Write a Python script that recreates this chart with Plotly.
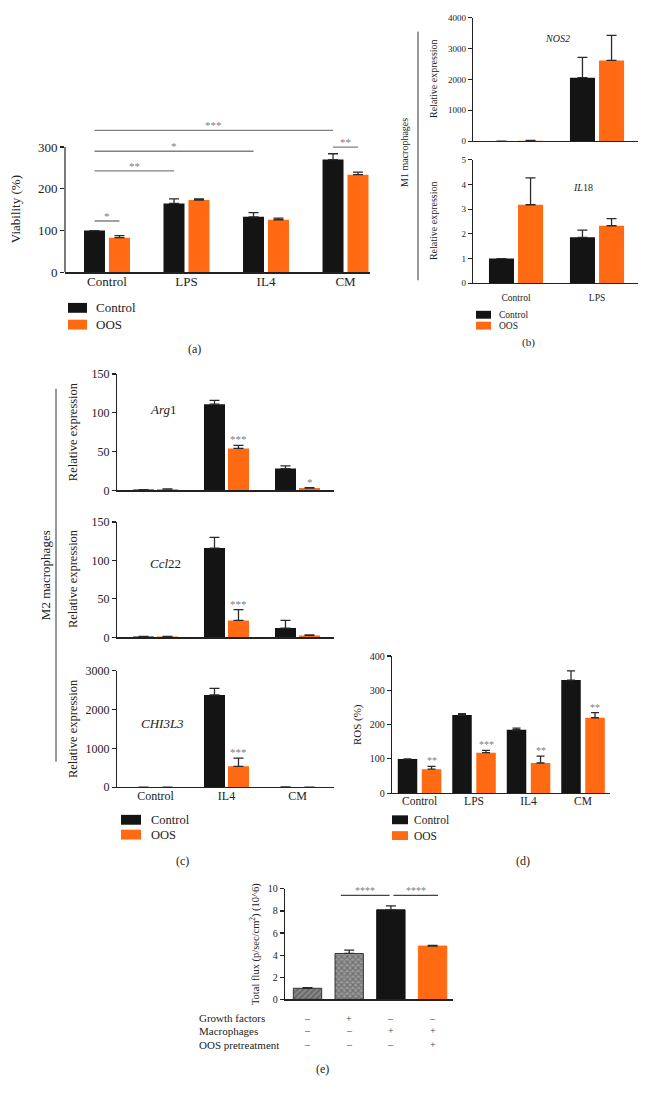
import plotly.graph_objects as go

W, H = 648, 1103
def PX(x): return x / W
def PY(y): return 1 - y / H

BLACK = '#141414'
ORANGE = '#ff6a13'
GREY = '#808080'
TXT = '#222222'
FONT = 'Liberation Serif'

# ---------------- data ----------------
# (a) viability
a_categories = ['Control', 'LPS', 'IL4', 'CM']
a_control = [100, 165, 133, 270]
a_control_err = [0, 11, 10, 14]
a_oos = [83, 173, 126, 234]
a_oos_err = [5, 3, 4, 6]
# brackets: (group, series) start, (group, series) end, height, label
a_brackets = [((0, 0), (0, 1), 123, '*'), ((0, 0), (1, 0), 243, '**'),
              ((0, 0), (2, 0), 290, '*'), ((0, 0), (3, 0), 340, '***'),
              ((3, 0), (3, 1), 300, '**')]

# (b) M1 macrophages
b_categories = ['Control', 'LPS']
nos2_control = [1, 2060]
nos2_control_err = [0, 660]
nos2_oos = [12, 2620]
nos2_oos_err = [10, 810]
il18_control = [1.0, 1.86]
il18_control_err = [0, 0.29]
il18_oos = [3.18, 2.33]
il18_oos_err = [1.09, 0.29]

# (c) M2 macrophages
c_categories = ['Control', 'IL4', 'CM']
arg1_control = [1, 111, 28]
arg1_control_err = [0, 5, 3.5]
arg1_oos = [1.5, 54, 3]
arg1_oos_err = [0.3, 4, 0.6]
arg1_stars = ['', '***', '*']
ccl22_control = [1, 116, 12]
ccl22_control_err = [0.3, 14, 10]
ccl22_oos = [1, 22, 2.5]
ccl22_oos_err = [0.3, 14, 0.6]
ccl22_stars = ['', '***', '']
chi3l3_control = [1, 2380, 5]
chi3l3_control_err = [0, 170, 1]
chi3l3_oos = [1, 540, 3]
chi3l3_oos_err = [0, 210, 1]
chi3l3_stars = ['', '***', '']

# (d) ROS
d_categories = ['Control', 'LPS', 'IL4', 'CM']
ros_control = [100, 228, 185, 330]
ros_control_err = [0, 4, 5, 27]
ros_oos = [70, 118, 88, 220]
ros_oos_err = [8, 7, 20, 15]
ros_stars = ['**', '***', '**', '**']

# (e) total flux
e_flux = [1.0, 4.15, 8.1, 4.82]
e_flux_err = [0.05, 0.3, 0.35, 0.05]
e_row_labels = ['Growth factors', 'Macrophages', 'OOS pretreatment']
e_row_signs = [['–', '+', '–', '–'], ['–', '–', '+', '+'], ['–', '–', '–', '+']]
e_brackets = [(0.8, 1.97, 9.4, '****'), (2.06, 3.13, 9.4, '****')]

fig = go.Figure()
shapes = []
annots = []

def txt(x, y, text, size, color=TXT, xanchor='center', yanchor='middle', **kw):
    d = dict(x=PX(x), y=PY(y), xref='paper', yref='paper', text=text, showarrow=False,
             xanchor=xanchor, yanchor=yanchor, font=dict(family=FONT, size=size, color=color))
    d.update(kw)
    annots.append(d)

def err_bar(errs, thick=1.3, width=5):
    return dict(type='data', symmetric=False, array=errs, arrayminus=[0] * len(errs),
                color='#2a2a2a', thickness=thick, width=width, visible=True)

def ax_names(ax):
    s = '' if ax == 1 else str(ax)
    return 'x' + s, 'y' + s

def pair(ax, ctrl, ctrl_err, oos, oos_err, w, g, capw=5):
    xs = list(range(len(ctrl)))
    xa, ya = ax_names(ax)
    fig.add_trace(go.Bar(x=xs, y=ctrl, width=w, offset=-w - g / 2, marker=dict(color=BLACK, line=dict(width=0)),
                         error_y=err_bar(ctrl_err, width=capw), xaxis=xa, yaxis=ya, showlegend=False, name='Control'))
    fig.add_trace(go.Bar(x=xs, y=oos, width=w, offset=g / 2, marker=dict(color=ORANGE, line=dict(width=0)),
                         error_y=err_bar(oos_err, width=capw), xaxis=xa, yaxis=ya, showlegend=False, name='OOS'))

def stars(ax, vals, errs, labels, w, g, size):
    xa, ya = ax_names(ax)
    for i, (v, e, s) in enumerate(zip(vals, errs, labels)):
        if s:
            annots.append(dict(x=i + (w + g) / 2, y=v + e, xref=xa, yref=ya, text=s, showarrow=False,
                               xanchor='center', yanchor='bottom', yshift=-2,
                               font=dict(family=FONT, size=size, color=GREY)))

def xaxis_cfg(dom, rng, labels, anchor, fontsize, show=True, standoff=-3):
    d = dict(domain=[PX(dom[0]), PX(dom[1])], range=rng, anchor=anchor,
             showline=True, linecolor='#222', linewidth=1.2, ticks='',
             showgrid=False, zeroline=False, fixedrange=True)
    if show:
        d.update(tickvals=list(range(len(labels))), ticktext=labels, showticklabels=True,
                 ticklabelstandoff=standoff, tickfont=dict(family=FONT, size=fontsize, color=TXT))
    else:
        d.update(showticklabels=False)
    return d

def yaxis_cfg(dom, rng, tickvals, anchor, fontsize, showline=True):
    return dict(domain=[PY(dom[0]), PY(dom[1])], range=rng, anchor=anchor, tickvals=tickvals,
                ticks='outside', ticklen=4, tickwidth=1.2, tickcolor='#222', showline=showline,
                linecolor='#222', linewidth=1.2, showgrid=False, zeroline=False, fixedrange=True,
                tickfont=dict(family=FONT, size=fontsize, color=TXT))

def legend(x0, x1, ys, h, labels, size, lx):
    cols = [BLACK, ORANGE]
    for y, lab, c in zip(ys, labels, cols):
        shapes.append(dict(type='rect', xref='paper', yref='paper', x0=PX(x0), x1=PX(x1),
                           y0=PY(y + h / 2), y1=PY(y - h / 2), fillcolor=c, line=dict(width=0)))
        txt(lx, y, lab, size, xanchor='left')

layout = {}

# ---------------- (a) ----------------
wa, ga = 0.264, 0.05
pair(1, a_control, a_control_err, a_oos, a_oos_err, wa, ga, capw=5)
layout['xaxis'] = xaxis_cfg((65, 370), [-0.528, 3.308], a_categories, 'y', 13)
layout['yaxis'] = yaxis_cfg((269, 269 - 350 * 127 / 300), [0, 350], [0, 100, 200, 300], 'x', 13, showline=False)
shapes.append(dict(type='line', xref='x domain', yref='y', x0=0, x1=0, y0=0, y1=300,
                   line=dict(color='#222', width=1.2)))
for (g0, s0), (g1, s1), yv, lab in a_brackets:
    xa0 = g0 + (wa + ga) / 2 * (1 if s0 else -1)
    xa1 = g1 + (wa + ga) / 2 * (1 if s1 else -1)
    shapes.append(dict(type='line', xref='x', yref='y', x0=xa0, x1=xa1, y0=yv, y1=yv,
                       line=dict(color=GREY, width=1.3)))
    annots.append(dict(x=(xa0 + xa1) / 2, y=yv, xref='x', yref='y', text=lab, showarrow=False,
                       xanchor='center', yanchor='bottom', yshift=-3,
                       font=dict(family=FONT, size=11, color=GREY)))
txt(15, 205, 'Viability (%)', 13, textangle=-90)
legend(68, 87, [305, 322], 10, ['Control', 'OOS'], 13, 94)
txt(194, 347, '(a)', 12)

# ---------------- (b) ----------------
wb, gb = 0.309, 0.05
pair(2, nos2_control, nos2_control_err, nos2_oos, nos2_oos_err, wb, gb, capw=5)
pair(3, il18_control, il18_control_err, il18_oos, il18_oos_err, wb, gb, capw=5)
layout['xaxis2'] = xaxis_cfg((473, 638), [-0.531, 1.506], b_categories, 'y2', 9, show=False)
layout['yaxis2'] = yaxis_cfg((136, 11), [0, 4000], [0, 1000, 2000, 3000, 4000], 'x2', 9)
layout['xaxis3'] = xaxis_cfg((473, 638), [-0.531, 1.506], b_categories, 'y3', 9.5, standoff=5)
layout['yaxis3'] = yaxis_cfg((280, 155), [0, 5], [0, 1, 2, 3, 4, 5], 'x3', 9)
txt(433, 73, 'Relative expression', 10, textangle=-90)
txt(433, 217, 'Relative expression', 10, textangle=-90)
txt(557, 32, '<i>NOS2</i>', 10)
txt(583, 183, '<i>IL</i>18', 10)
txt(405, 148, 'M1 macrophages', 10, textangle=-90)
shapes.append(dict(type='line', xref='paper', yref='paper', x0=PX(418), x1=PX(418), y0=PY(25), y1=PY(277),
                   line=dict(color='#333', width=1)))
legend(476, 491, [312, 323], 8, ['Control', 'OOS'], 9.5, 497)
txt(528, 340, '(b)', 11)

# ---------------- (c) ----------------
wc, gc = 0.296, 0.042
pair(4, arg1_control, arg1_control_err, arg1_oos, arg1_oos_err, wc, gc)
pair(5, ccl22_control, ccl22_control_err, ccl22_oos, ccl22_oos_err, wc, gc)
pair(6, chi3l3_control, chi3l3_control_err, chi3l3_oos, chi3l3_oos_err, wc, gc)
stars(4, arg1_oos, arg1_oos_err, arg1_stars, wc, gc, 11)
stars(5, ccl22_oos, ccl22_oos_err, ccl22_stars, wc, gc, 11)
stars(6, chi3l3_oos, chi3l3_oos_err, chi3l3_stars, wc, gc, 11)
crng = [-0.542, 2.514]
layout['xaxis4'] = xaxis_cfg((117, 334), crng, c_categories, 'y4', 12, show=False)
layout['yaxis4'] = yaxis_cfg((490, 372), [0, 150], [0, 50, 100, 150], 'x4', 12)
layout['xaxis5'] = xaxis_cfg((117, 334), crng, c_categories, 'y5', 12, show=False)
layout['yaxis5'] = yaxis_cfg((639, 522), [0, 150], [0, 50, 100, 150], 'x5', 12)
layout['xaxis6'] = xaxis_cfg((117, 334), crng, c_categories, 'y6', 12)
layout['yaxis6'] = yaxis_cfg((791, 673), [0, 3000], [0, 1000, 2000, 3000], 'x6', 12)
txt(73, 431, 'Relative expression', 12.5, textangle=-90)
txt(73, 580, 'Relative expression', 12.5, textangle=-90)
txt(73, 732, 'Relative expression', 12.5, textangle=-90)
txt(163, 408, '<i>Arg</i>1', 13)
txt(165, 564, '<i>Ccl</i>22', 13)
txt(162, 726, '<i>CHI3L3</i>', 13)
txt(45, 576, 'M2 macrophages', 13, textangle=-90)
shapes.append(dict(type='line', xref='paper', yref='paper', x0=PX(56), x1=PX(56), y0=PY(387), y1=PY(765),
                   line=dict(color='#333', width=1)))
legend(121, 141, [824, 839], 10, ['Control', 'OOS'], 12.5, 149)
txt(183, 866, '(c)', 12)

# ---------------- (d) ----------------
wd, gd = 0.358, 0.083
pair(7, ros_control, ros_control_err, ros_oos, ros_oos_err, wd, gd, capw=4)
stars(7, ros_oos, ros_oos_err, ros_stars, wd, gd, 10)
layout['xaxis7'] = xaxis_cfg((392, 610), [-0.505, 3.495], d_categories, 'y7', 11.5)
layout['yaxis7'] = yaxis_cfg((797, 658), [0, 400], [0, 100, 200, 300, 400], 'x7', 10)
txt(357, 728, 'ROS (%)', 11, textangle=-90)
legend(392, 408, [824, 840], 9, ['Control', 'OOS'], 11.5, 412)
txt(523, 866, '(d)', 12)

# ---------------- (e) ----------------
fig.add_trace(go.Bar(
    x=list(range(len(e_flux))), y=e_flux, width=0.68, xaxis='x8', yaxis='y8', showlegend=False,
    marker=dict(color=['#8a8a8a', '#9a9a9a', BLACK, ORANGE],
                line=dict(color=['#333', '#333', BLACK, ORANGE], width=1),
                pattern=dict(shape=['/', 'x', '', ''], fgcolor=['#2d2d2d', '#2a2a2a', BLACK, ORANGE],
                             bgcolor=['#8a8a8a', '#a0a0a0', BLACK, ORANGE], size=4, solidity=0.5)),
    error_y=err_bar(e_flux_err, width=5)))
layout['xaxis8'] = xaxis_cfg((285, 453), [-0.54, 3.49], [], 'y8', 10, show=False)
layout['yaxis8'] = yaxis_cfg((1006, 894), [0, 10], [0, 2, 4, 6, 8, 10], 'x8', 10)
for x0, x1, yv, lab in e_brackets:
    shapes.append(dict(type='line', xref='x8', yref='y8', x0=x0, x1=x1, y0=yv, y1=yv,
                       line=dict(color='#444', width=1.2)))
    annots.append(dict(x=(x0 + x1) / 2, y=yv, xref='x8', yref='y8', text=lab, showarrow=False,
                       xanchor='center', yanchor='bottom', yshift=-3,
                       font=dict(family=FONT, size=10, color=GREY)))
txt(255, 950, 'Total flux (p/sec/cm<sup>2</sup>) (10^6)', 10.5, textangle=-90)
row_y = [1025, 1038, 1052]
for lab, signs, yy in zip(e_row_labels, e_row_signs, row_y):
    txt(197, yy, lab, 11, xanchor='left')
    for i, s in enumerate(signs):
        annots.append(dict(x=i, y=PY(yy), xref='x8', yref='paper', text=s, showarrow=False,
                           xanchor='center', yanchor='middle',
                           font=dict(family=FONT, size=10, color='#444')))
txt(322, 1077, '(e)', 12)

fig.update_layout(
    width=W, height=H, margin=dict(l=0, r=0, t=0, b=0), autosize=False,
    paper_bgcolor='white', plot_bgcolor='white', barmode='overlay', showlegend=False,
    hovermode=False,
    font=dict(family=FONT, color=TXT), shapes=shapes, annotations=annots, **layout)

fig.write_html('out.html', config={'displayModeBar': False, 'staticPlot': True},
               post_script="document.body.style.margin='0';document.documentElement.style.overflow='hidden';")
